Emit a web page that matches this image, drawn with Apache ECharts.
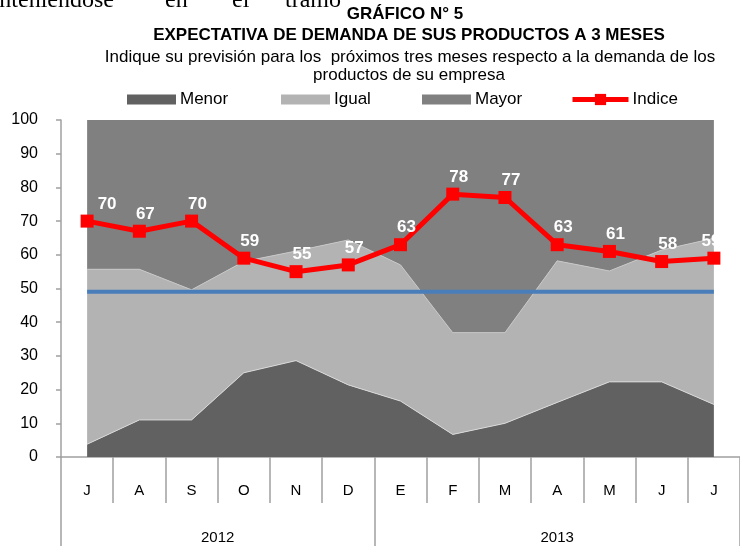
<!DOCTYPE html>
<html>
<head>
    <meta charset="utf8">
    <title>Gráfico 5</title>
    <script src="https://cdn.jsdelivr.net/npm/echarts@6/dist/echarts.min.js"></script>
    <style>
        body { margin: 0; background: #fff; }
    </style>
</head>
<body>
    <div id="main" style="width: 740px;height:546px;"></div>
    <script type="text/javascript">
        // datos
        var meses = ['J', 'A', 'S', 'O', 'N', 'D', 'E', 'F', 'M', 'A', 'M', 'J', 'J'];
        var anios = ['2012', '2013'];
        var menor = [3.8, 11.0, 11.0, 25.0, 28.6, 21.4, 16.6, 6.7, 10.0, 16.2, 22.3, 22.3, 15.6];
        var igual = [51.9, 44.7, 38.6, 33.0, 32.5, 43.0, 40.4, 30.2, 26.9, 42.0, 32.9, 39.1, 49.3];
        var mayor = [44.3, 44.3, 50.4, 42.0, 38.9, 35.6, 43.0, 63.1, 63.1, 41.8, 44.8, 38.6, 35.1];
        var indice = [70, 67, 70, 59, 55, 57, 63, 78, 77, 63, 61, 58, 59];
        var promedio = [49, 49, 49, 49, 49, 49, 49, 49, 49, 49, 49, 49, 49];

        var fuente = 'Liberation Sans, Arial, sans-serif';
        var gris = '#a0a0a0';

        var myChart = echarts.init(document.getElementById('main'));

        var indiceData = indice.map(function (v, i) {
            if (i === 0) return { value: v, label: { offset: [20, 0] } };
            if (i === indice.length - 1) return { value: v, label: { offset: [-3, 0] } };
            return v;
        });

        var leyenda = function (nombre, x, icono) {
            var l = {
                left: x,
                top: 86,
                itemWidth: 49,
                itemHeight: 10,
                itemGap: 0,
                textStyle: { fontFamily: fuente, fontSize: 17, color: '#000', padding: [0, 0, 0, -1] },
                data: [{ name: nombre }]
            };
            if (icono) l.data[0].icon = icono;
            return l;
        };

        var serif = '24px "Liberation Serif", serif';

        option = {
            backgroundColor: '#fff',
            animation: false,
            graphic: [
                { type: 'text', left: -30, top: -11, style: { text: 'manteniéndose', font: serif, fill: '#000' } },
                { type: 'text', left: 165, top: -11, style: { text: 'en', font: serif, fill: '#000' } },
                { type: 'text', left: 232, top: -11, style: { text: 'el', font: serif, fill: '#000' } },
                { type: 'text', left: 285, top: -11, style: { text: 'tramo', font: serif, fill: '#000' } },
                { type: 'text', x: 405, y: 14, style: { text: 'GRÁFICO N° 5', align: 'center', verticalAlign: 'middle', font: 'bold 17px ' + fuente, fill: '#000' } },
                { type: 'text', x: 409, y: 35, style: { text: 'EXPECTATIVA DE DEMANDA DE SUS PRODUCTOS A 3 MESES', align: 'center', verticalAlign: 'middle', font: 'bold 17px ' + fuente, fill: '#000' } },
                { type: 'text', x: 410, y: 57, style: { text: 'Indique su previsión para los  próximos tres meses respecto a la demanda de los', align: 'center', verticalAlign: 'middle', font: '17px ' + fuente, fill: '#000' } },
                { type: 'text', x: 409, y: 75, style: { text: 'productos de su empresa', align: 'center', verticalAlign: 'middle', font: '17px ' + fuente, fill: '#000' } }
            ],
            legend: [
                leyenda('Menor', 122, 'rect'),
                leyenda('Igual', 276, 'rect'),
                leyenda('Mayor', 417, 'rect'),
                Object.assign(leyenda('Indice', 565), { itemWidth: 56, itemHeight: 14, lineStyle: { width: 5 } })
            ],
            grid: { left: 61, top: 120, width: 689, height: 337, containLabel: false },
            xAxis: [
                {
                    type: 'category',
                    data: meses,
                    boundaryGap: true,
                    axisLine: { lineStyle: { color: gris, width: 1.5 } },
                    axisTick: { show: true, interval: 0, length: 46, lineStyle: { color: gris, width: 1.5 } },
                    axisLabel: { interval: 0, margin: 26, fontFamily: fuente, fontSize: 15, color: '#000' },
                    splitLine: { show: false }
                },
                {
                    type: 'value',
                    min: 0,
                    max: 13,
                    position: 'bottom',
                    axisLine: { show: false },
                    axisTick: { show: true, customValues: [0, 6, 13], length: 92, lineStyle: { color: gris, width: 1.5 } },
                    axisLabel: {
                        customValues: [3, 9.5],
                        margin: 73,
                        fontFamily: fuente,
                        fontSize: 15,
                        color: '#000',
                        formatter: function (v) { return v < 6 ? anios[0] : anios[1]; }
                    },
                    splitLine: { show: false }
                }
            ],
            yAxis: {
                type: 'value',
                min: 0,
                max: 100,
                interval: 10,
                axisLine: { show: true, lineStyle: { color: gris, width: 1.5 } },
                axisTick: { show: true, length: 5, lineStyle: { color: gris, width: 1.5 } },
                axisLabel: { margin: 23, fontFamily: fuente, fontSize: 16, color: '#000' },
                splitLine: { show: false }
            },
            series: [
                {
                    name: 'Menor', type: 'line', stack: 'total', data: menor,
                    symbol: 'none', itemStyle: { color: '#616161' },
                    lineStyle: { width: 1, color: '#d8d8d8' },
                    areaStyle: { color: '#616161', opacity: 1 }
                },
                {
                    name: 'Igual', type: 'line', stack: 'total', data: igual,
                    symbol: 'none', itemStyle: { color: '#b3b3b3' },
                    lineStyle: { width: 1, color: '#c8c8c8' },
                    areaStyle: { color: '#b3b3b3', opacity: 1 }
                },
                {
                    name: 'Mayor', type: 'line', stack: 'total', data: mayor,
                    symbol: 'none', itemStyle: { color: '#808080' },
                    lineStyle: { width: 0 },
                    areaStyle: { color: '#808080', opacity: 1 }
                },
                {
                    name: 'Promedio', type: 'line', data: promedio,
                    symbol: 'none', z: 3,
                    lineStyle: { color: '#4a7ebb', width: 4 }
                },
                {
                    name: 'Indice', type: 'line', data: indiceData,
                    symbol: 'rect', symbolSize: 13, z: 5,
                    itemStyle: { color: '#ff0000' },
                    lineStyle: { color: '#ff0000', width: 5 },
                    label: {
                        show: true, position: 'top', distance: 2, offset: [6, 0],
                        color: '#fff', fontFamily: fuente, fontWeight: 'bold', fontSize: 17
                    }
                }
            ]
        };
        myChart.setOption(option);
    </script>
</body>
</html>
